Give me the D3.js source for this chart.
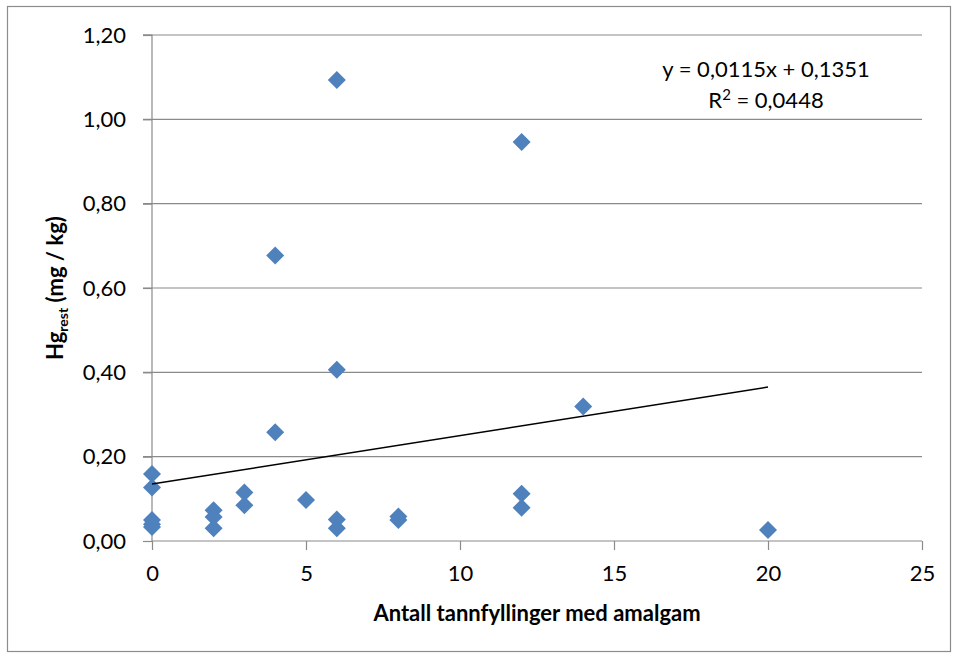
<!DOCTYPE html>
<html>
<head>
<meta charset="utf-8">
<script src="https://cdn.jsdelivr.net/npm/d3@7"></script>
<style>
  html, body { margin: 0; padding: 0; background: #fff; }
  svg { display: block; }
  text { font-family: Lato, "Open Sans", sans-serif; fill: #000; }
</style>
</head>
<body>
<svg id="chart" width="957" height="660"></svg>
<script>
// ---- Data ----
const amalgamFillings = [0, 0, 0, 0, 0, 2, 2, 2, 3, 3, 4, 4, 5, 6, 6, 6, 6, 8, 8, 12, 12, 12, 14, 20];
const hgRest = [0.159, 0.127, 0.050, 0.040, 0.033, 0.073, 0.057, 0.030, 0.115, 0.085,
                0.677, 0.258, 0.097, 1.093, 0.406, 0.051, 0.030, 0.058, 0.050,
                0.946, 0.112, 0.079, 0.319, 0.026];
const xTicks = [0, 5, 10, 15, 20, 25];
const yTicks = [0, 0.2, 0.4, 0.6, 0.8, 1.0, 1.2];
const trendSlope = 0.0115;
const trendIntercept = 0.1351;
const equationText = "y = 0,0115x + 0,1351";
const rSquaredText = "0,0448";
const xTitle = "Antall tannfyllinger med amalgam";

// ---- Layout ----
const svg = d3.select("#chart");
const locale = d3.formatLocale({ decimal: ",", thousands: " ", grouping: [3], currency: ["", ""] });
const fmtY = locale.format(".2f");

const x = d3.scaleLinear().domain([0, 25]).range([152, 922]);
const y = d3.scaleLinear().domain([0, 1.2]).range([541, 35]);

// outer border
svg.append("rect").attr("x", 7.5).attr("y", 6.5).attr("width", 943).attr("height", 645)
  .attr("fill", "#fff").attr("stroke", "#8c8c8c").attr("stroke-width", 1.2);

const gridColor = "#8a8a8a";

// horizontal gridlines
svg.append("g").selectAll("line").data(yTicks.filter(d => d > 0)).join("line")
  .attr("x1", x(0) - 9).attr("x2", x(25))
  .attr("y1", d => y(d)).attr("y2", d => y(d))
  .attr("stroke", gridColor).attr("stroke-width", 1.2);

// y axis
const yAxis = d3.axisLeft(y).tickValues(yTicks).tickFormat(fmtY).tickSize(9).tickPadding(17);
const gy = svg.append("g").attr("transform", `translate(${x(0)},0)`).call(yAxis);
gy.select(".domain").attr("stroke", gridColor).attr("stroke-width", 1.2).attr("d", `M-9,${y(1.2)}H0V${y(0)}`);
gy.selectAll(".tick line").attr("stroke", gridColor).attr("stroke-width", 1.2);
gy.selectAll(".tick text").style("font-size", "22px").style("font-family", "Lato, sans-serif").attr("fill", "#111");

// x axis
const xAxis = d3.axisBottom(x).tickValues(xTicks).tickFormat(d3.format("d")).tickSize(9).tickPadding(15);
const gx = svg.append("g").attr("transform", `translate(0,${y(0)})`).call(xAxis);
gx.select(".domain").attr("stroke", gridColor).attr("stroke-width", 1.2).attr("d", `M${x(0)},0H${x(25)}`);
gx.selectAll(".tick line").attr("stroke", gridColor).attr("stroke-width", 1.2);
gx.selectAll(".tick text").style("font-size", "22px").style("font-family", "Lato, sans-serif").attr("fill", "#111");

// data points (diamonds)
const r = 9;
const diamond = `M0,${-r}L${r},0L0,${r}L${-r},0Z`;
const pts = amalgamFillings.map((v, i) => ({ x: v, y: hgRest[i] }));
svg.append("g").selectAll("path").data(pts).join("path")
  .attr("d", diamond)
  .attr("transform", d => `translate(${x(d.x)},${y(d.y)})`)
  .attr("fill", "#4F81BD");

// linear trend line
const xMin = d3.min(amalgamFillings), xMax = d3.max(amalgamFillings);
svg.append("line")
  .attr("x1", x(xMin)).attr("y1", y(trendIntercept + trendSlope * xMin))
  .attr("x2", x(xMax)).attr("y2", y(trendIntercept + trendSlope * xMax))
  .attr("stroke", "#000").attr("stroke-width", 1.5);

// equation
svg.append("text")
  .attr("x", 766).attr("y", 77)
  .attr("text-anchor", "middle")
  .style("font-size", "22px")
  .text(equationText);
const r2 = svg.append("text")
  .attr("x", 766).attr("y", 108)
  .attr("text-anchor", "middle")
  .style("font-size", "22px");
r2.append("tspan").text("R");
r2.append("tspan").attr("dy", -8).style("font-size", "15px").text("2");
r2.append("tspan").attr("dy", 8).text(" = " + rSquaredText);

// x title
svg.append("text")
  .attr("x", (x(0) + x(25)) / 2).attr("y", 621)
  .attr("text-anchor", "middle")
  .style("font-size", "22px").style("font-weight", "bold")
  .text(xTitle);

// y title
const yt = svg.append("text")
  .attr("transform", `translate(63,${(y(0) + y(1.2)) / 2}) rotate(-90)`)
  .attr("text-anchor", "middle")
  .style("font-size", "22px").style("font-weight", "bold");
yt.append("tspan").text("Hg");
yt.append("tspan").attr("dy", 5).style("font-size", "14px").text("rest");
yt.append("tspan").attr("dy", -5).text(" (mg / kg)");
</script>
</body>
</html>
